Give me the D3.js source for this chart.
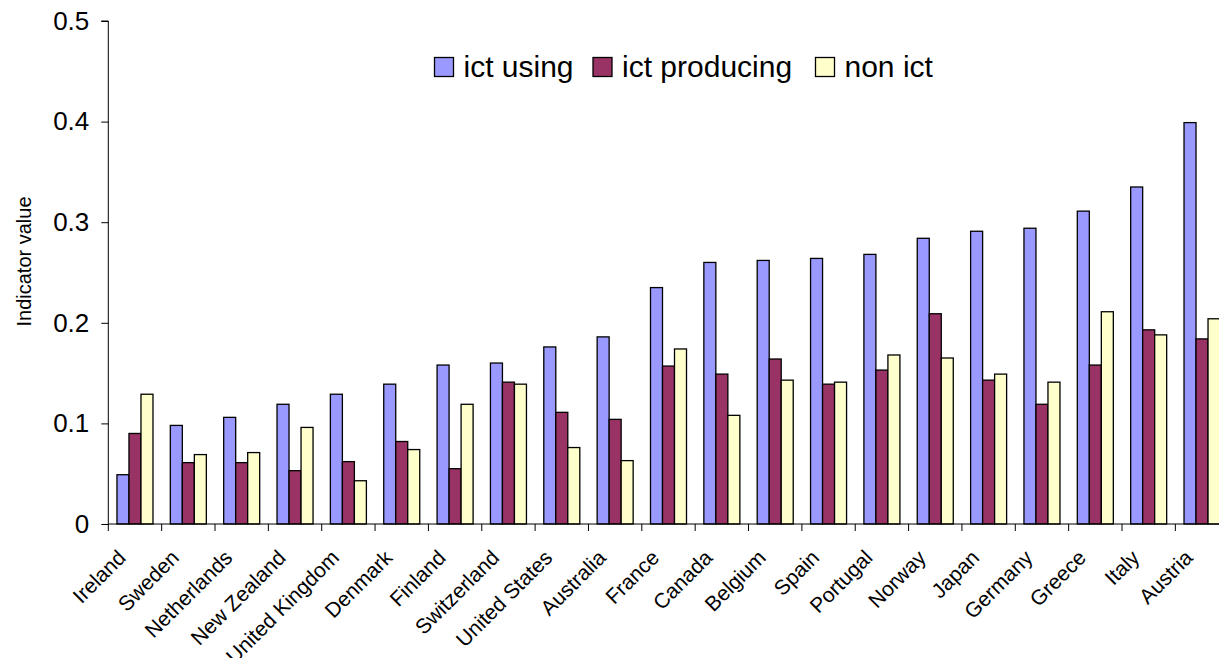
<!DOCTYPE html>
<html>
<head>
<meta charset="utf-8">
<script src="https://cdn.jsdelivr.net/npm/d3@7"></script>
<style>
  html, body { margin: 0; padding: 0; background: #fff; }
  svg { display: block; font-family: "Liberation Sans", Arial, sans-serif; }
</style>
</head>
<body>
<svg id="chart" width="1219" height="658"></svg>
<script>
const categories = ["Ireland","Sweden","Netherlands","New Zealand","United Kingdom","Denmark","Finland","Switzerland","United States","Australia","France","Canada","Belgium","Spain","Portugal","Norway","Japan","Germany","Greece","Italy","Austria"];
const seriesNames = ["ict using","ict producing","non ict"];
const ictUsing     = [0.049,0.098,0.106,0.119,0.129,0.139,0.158,0.160,0.176,0.186,0.235,0.260,0.262,0.264,0.268,0.284,0.291,0.294,0.311,0.335,0.399];
const ictProducing = [0.090,0.061,0.061,0.053,0.062,0.082,0.055,0.141,0.111,0.104,0.157,0.149,0.164,0.139,0.153,0.209,0.143,0.119,0.158,0.193,0.184];
const nonIct       = [0.129,0.069,0.071,0.096,0.043,0.074,0.119,0.139,0.076,0.063,0.174,0.108,0.143,0.141,0.168,0.165,0.149,0.141,0.211,0.188,0.204];
const yTicks = [0, 0.1, 0.2, 0.3, 0.4, 0.5];
const yTitle = "Indicator value";

const colors = ["#9999FF", "#993366", "#FFFFCC"];
const seriesValues = [ictUsing, ictProducing, nonIct];

const svg = d3.select("#chart");
const axisY0 = 524, axisYTop = 21, axisX0 = 108.3, axisXEnd = 1228.7;

const x0 = d3.scaleBand().domain(categories).range([axisX0, axisXEnd])
  .paddingInner(0.325).paddingOuter(0.1625);
const x1 = d3.scaleBand().domain(seriesNames).range([0, x0.bandwidth()]);
const y = d3.scaleLinear().domain([0, 0.5]).range([axisY0, axisYTop]);

// bars
const rows = categories.map((c, i) => ({ cat: c, vals: seriesNames.map((s, k) => ({ s, k, v: seriesValues[k][i] })) }));
const g = svg.append("g");
g.selectAll("g.grp").data(rows).join("g")
  .attr("class", "grp")
  .attr("transform", d => `translate(${x0(d.cat)},0)`)
  .selectAll("rect").data(d => d.vals).join("rect")
  .attr("x", d => x1(d.s))
  .attr("y", d => y(d.v))
  .attr("width", x1.bandwidth())
  .attr("height", d => y(0) - y(d.v))
  .attr("fill", d => colors[d.k])
  .attr("stroke", "#000")
  .attr("stroke-width", 1.3);

// y axis
const yAxis = d3.axisLeft(y).tickValues(yTicks)
  .tickFormat(d => d === 0 ? "0" : d3.format(".1f")(d))
  .tickSize(7).tickPadding(12);
const ya = svg.append("g").attr("transform", `translate(${axisX0},0)`).call(yAxis);
ya.select(".domain").attr("stroke", "#000").attr("stroke-width", 1).attr("d", `M-7,${y(0.5)}H0V${axisY0}`);
ya.selectAll(".tick line").attr("stroke", "#000");
ya.selectAll("text").attr("font-size", 26).attr("fill", "#000")
  .attr("font-family", '"Liberation Sans", Arial, sans-serif');

// x axis
svg.append("line").attr("x1", axisX0).attr("x2", axisXEnd).attr("y1", axisY0).attr("y2", axisY0)
  .attr("stroke", "#000").attr("stroke-width", 1);
const step = x0.step();
const boundaries = categories.map(c => x0(c) + x0.bandwidth() / 2 - step / 2);
boundaries.push(x0(categories[categories.length - 1]) + x0.bandwidth() / 2 + step / 2);
svg.selectAll("line.xt").data(boundaries).join("line").attr("class", "xt")
  .attr("x1", d => d).attr("x2", d => d).attr("y1", axisY0).attr("y2", axisY0 + 7)
  .attr("stroke", "#000").attr("stroke-width", 1);

svg.selectAll("text.xl").data(categories).join("text").attr("class", "xl")
  .attr("transform", c => `translate(${x0(c) + x0.bandwidth() / 2 - 8},${axisY0 + 35}) rotate(-45)`)
  .attr("text-anchor", "end")
  .attr("font-size", 21)
  .attr("fill", "#000")
  .text(c => c);

// y title
svg.append("text")
  .attr("transform", `translate(31,${(axisY0 + axisYTop) / 2 - 11}) rotate(-90)`)
  .attr("text-anchor", "middle")
  .attr("font-size", 20)
  .attr("fill", "#000")
  .text(yTitle);

// legend
const legendX = [434.5, 593, 815.5];
const lg = svg.append("g");
seriesNames.forEach((s, k) => {
  lg.append("rect").attr("x", legendX[k]).attr("y", 57.5).attr("width", 19).attr("height", 19)
    .attr("fill", colors[k]).attr("stroke", "#000").attr("stroke-width", 1.3);
  lg.append("text").attr("x", legendX[k] + 29).attr("y", 77)
    .attr("font-size", 30).attr("fill", "#000").text(s);
});
</script>
</body>
</html>
